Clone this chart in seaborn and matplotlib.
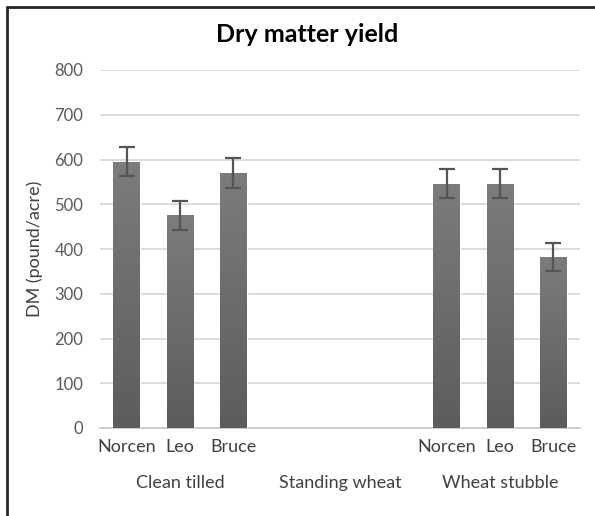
import numpy as np
import pandas as pd
import matplotlib
matplotlib.use('Agg')
import matplotlib.pyplot as plt
import seaborn as sns

# data
groups = ['Clean tilled', 'Standing wheat', 'Wheat stubble']
varieties = ['Norcen', 'Leo', 'Bruce']
dm_clean = [595, 475, 570]
dm_standing = [np.nan, np.nan, np.nan]
dm_stubble = [546, 546, 382]
err_clean = [32, 33, 33]
err_standing = [np.nan, np.nan, np.nan]
err_stubble = [33, 33, 32]
yticks = [0, 100, 200, 300, 400, 500, 600, 700, 800]

rows = []
for g, vals, errs in zip(groups, [dm_clean, dm_standing, dm_stubble],
                         [err_clean, err_standing, err_stubble]):
    for v, d, e in zip(varieties, vals, errs):
        rows.append({'group': g, 'variety': v, 'slot': g + '|' + v, 'dm': d, 'err': e})
df = pd.DataFrame(rows)
order = list(df['slot'])

sns.set_style('white')
plt.rcParams['font.family'] = ['Lato', 'DejaVu Sans']

fig = plt.figure(figsize=(5.95, 5.16), dpi=100)
ax = fig.add_axes([100 / 595, 1 - 428 / 516, 480 / 595, 358 / 516])

plot_df = df.dropna(subset=['dm'])
sns.barplot(data=plot_df, x='slot', y='dm', order=order, color='#6a6a6a',
            width=0.5, saturation=1, ax=ax, errorbar=None, zorder=3)

# gradient fill on bars (darker at the bottom, lighter at top)
grad = np.linspace(0, 1, 256).reshape(-1, 1)
cmap = matplotlib.colors.LinearSegmentedColormap.from_list('g', ['#5c5c5c', '#7c7c7c'])
centers = []
for p in ax.patches:
    x0, w, h = p.get_x(), p.get_width(), p.get_height()
    if np.isnan(h) or h == 0:
        continue
    centers.append(x0 + w / 2)
    im = ax.imshow(grad, extent=[x0, x0 + w, 0, h], origin='lower', cmap=cmap,
                   aspect='auto', zorder=3.5)
    im.set_clip_path(p)

centers = sorted(centers)
ax.errorbar(centers, plot_df['dm'].values, yerr=plot_df['err'].values, fmt='none',
            ecolor='#555555', elinewidth=1.6, capsize=5.5, capthick=1.6, zorder=5)

ax.set_xlim(-0.5, len(order) - 0.5)
ax.set_ylim(0, 800)
ax.set_yticks(yticks)
ax.yaxis.grid(True, color='#d9d9d9', linewidth=1.3, zorder=0)
ax.set_axisbelow(True)
for s in ['top', 'right', 'left']:
    ax.spines[s].set_visible(False)
ax.spines['bottom'].set_color('#c8c8c8')
ax.spines['bottom'].set_linewidth(1.3)
ax.tick_params(axis='y', length=0, labelsize=12, labelcolor='#595959', pad=12)
ax.tick_params(axis='x', length=0, labelsize=13, labelcolor='#404040', pad=8)
ax.set_xticks(range(len(order)))
ax.set_xticklabels([v if g != 'Standing wheat' else '' for g, v in zip(df['group'], df['variety'])])
ax.set_xlabel('')
ax.set_ylabel('DM (pound/acre)', fontsize=13, color='#404040', labelpad=8)

for i, g in enumerate(groups):
    ax.text(i * 3 + 1, -0.155, g, transform=ax.get_xaxis_transform(), ha='center',
            va='center', fontsize=13, color='#404040')

fig.text(307 / 595, 1 - 34 / 516, 'Dry matter yield', ha='center', va='center',
         fontsize=18, fontweight='bold', color='#000000')

# chart frame: dark border at top and left
fig.add_artist(plt.Line2D([7 / 595, 7 / 595], [0, 1 - 7 / 516], color='#262626',
                          linewidth=2, transform=fig.transFigure))
fig.add_artist(plt.Line2D([7 / 595, 1], [1 - 7 / 516, 1 - 7 / 516], color='#262626',
                          linewidth=2, transform=fig.transFigure))

fig.savefig('out.png', dpi=100)
